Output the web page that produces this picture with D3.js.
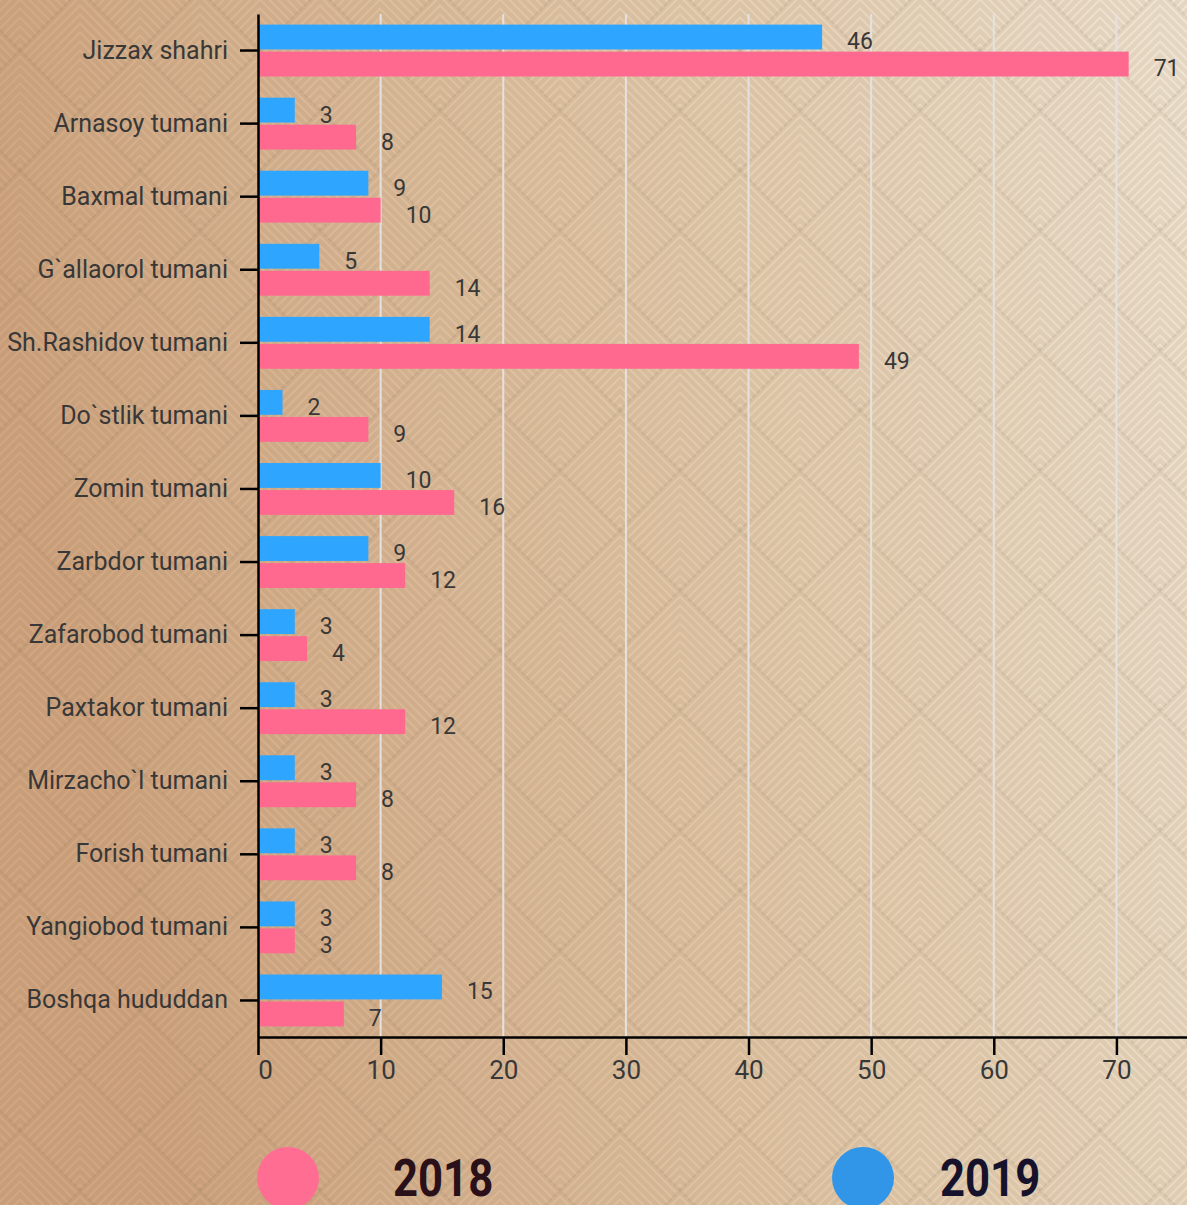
<!DOCTYPE html>
<html>
<head>
<meta charset="utf-8">
<script src="https://cdn.jsdelivr.net/npm/d3@7"></script>
<style>
    html, body { margin: 0; padding: 0; overflow: hidden; }
    svg { display: block; }
</style>
</head>
<body>
<script>
// categories (top to bottom)
const categories = ['Jizzax shahri', 'Arnasoy tumani', 'Baxmal tumani', 'G`allaorol tumani',
    'Sh.Rashidov tumani', 'Do`stlik tumani', 'Zomin tumani', 'Zarbdor tumani', 'Zafarobod tumani',
    'Paxtakor tumani', 'Mirzacho`l tumani', 'Forish tumani', 'Yangiobod tumani', 'Boshqa hududdan'];
const values_2018 = [71, 8, 10, 14, 49, 9, 16, 12, 4, 12, 8, 8, 3, 7];
const values_2019 = [46, 3, 9, 5, 14, 2, 10, 9, 3, 3, 3, 3, 3, 15];
const series = ['2019', '2018'];
const x_ticks = [0, 10, 20, 30, 40, 50, 60, 70];

const series2color = { '2018': '#ff6990', '2019': '#2ea6ff' };
const legend2color = { '2018': '#ff6e92', '2019': '#3196e8' };
const legend_text_color = { '2018': '#2a1018', '2019': '#16122c' };

// canvas
const width = 1187;
const height = 1205;
const margin = { left: 258, top: 14, bottom: 1037, right: 1190 };

const svg = d3.select('body')
    .append('svg')
    .attr('width', width)
    .attr('height', height);

// background: gradient + chevron diamonds
const defs = svg.append('defs');
const grad = defs.append('linearGradient')
    .attr('id', 'bg_grad')
    .attr('x1', '0%').attr('y1', '20%')
    .attr('x2', '100%').attr('y2', '0%');
grad.append('stop').attr('offset', '0%').attr('stop-color', '#d2a681');
grad.append('stop').attr('offset', '50%').attr('stop-color', '#e3c8a8');
grad.append('stop').attr('offset', '100%').attr('stop-color', '#f1e5d3');

const tile = 120;
const half = tile / 2;
const pattern = defs.append('pattern')
    .attr('id', 'chevrons')
    .attr('patternUnits', 'userSpaceOnUse')
    .attr('width', tile)
    .attr('height', tile)
    .attr('x', 20).attr('y', -8);
// every diamond is filled with nested ^ shapes, the arms stop at the lower edges
const diamond_centers = [[half, half], [0, 0], [tile, 0], [0, tile], [tile, tile]];
for (const [cx, cy] of diamond_centers) {
    for (let d = 0; d < tile; d += 9) {
        const arm = half - d / 2;
        pattern.append('path')
            .attr('d', `M${cx - arm},${cy + d / 2}L${cx},${cy - half + d}L${cx + arm},${cy + d / 2}`)
            .attr('fill', 'none')
            .attr('stroke', 'rgba(105,85,60,0.10)')
            .attr('stroke-width', 4.5);
    }
}

svg.append('rect')
    .attr('width', width)
    .attr('height', height)
    .attr('fill', 'url(#bg_grad)');
svg.append('rect')
    .attr('width', width)
    .attr('height', height)
    .attr('fill', 'url(#chevrons)');

// scales
const x = d3.scaleLinear()
    .domain([0, 76])
    .range([margin.left, margin.right]);
const y0 = d3.scaleBand()
    .domain(categories)
    .range([margin.top, margin.bottom])
    .paddingInner(0.29)
    .paddingOuter(0.145);
const y1 = d3.scaleBand()
    .domain(series)
    .range([0, y0.bandwidth()])
    .paddingInner(0.08);

// grid lines
svg.append('g')
    .attr('id', 'grid_g')
    .selectAll('line')
    .data(x_ticks.filter(d => d > 0))
    .enter().append('line')
    .attr('x1', d => x(d))
    .attr('x2', d => x(d))
    .attr('y1', margin.top)
    .attr('y2', margin.bottom)
    .attr('stroke', '#e4e2e0')
    .attr('stroke-width', 2);

// bars
const rows = categories.map((c, i) => ({ category: c, '2018': values_2018[i], '2019': values_2019[i] }));
const bar_data = [];
for (const r of rows) {
    for (const s of series) bar_data.push({ category: r.category, series: s, value: r[s] });
}

svg.append('g')
    .attr('id', 'bars_g')
    .selectAll('rect')
    .data(bar_data)
    .enter().append('rect')
    .attr('x', x(0))
    .attr('y', d => y0(d.category) + y1(d.series))
    .attr('width', d => x(d.value) - x(0))
    .attr('height', y1.bandwidth())
    .attr('fill', d => series2color[d.series]);

// value labels
svg.append('g')
    .attr('id', 'labels_g')
    .selectAll('text')
    .data(bar_data)
    .enter().append('text')
    .attr('x', d => x(d.value) + 25)
    .attr('y', d => y0(d.category) + y1(d.series) + y1.bandwidth())
    .attr('font-family', 'Roboto, sans-serif')
    .attr('font-size', 23)
    .attr('fill', '#383838')
    .text(d => d.value);

// axes
const x_axis = svg.append('g')
    .attr('transform', `translate(0,${margin.bottom})`)
    .call(d3.axisBottom(x).tickValues(x_ticks).tickSize(18).tickPadding(6).tickSizeOuter(0));
const y_axis = svg.append('g')
    .attr('transform', `translate(${margin.left},0)`)
    .call(d3.axisLeft(y0).tickSize(18).tickPadding(12).tickSizeOuter(0));

for (const ax of [x_axis, y_axis]) {
    ax.select('.domain').attr('stroke', '#000').attr('stroke-width', 2.5);
    ax.selectAll('.tick line').attr('stroke', '#000').attr('stroke-width', 2.5);
    ax.selectAll('.tick text')
        .attr('font-family', 'Roboto, sans-serif')
        .attr('fill', '#383838');
}
x_axis.selectAll('.tick text')
    .attr('font-size', 26)
    .attr('dx', d => d === 0 ? 7 : 0);
y_axis.selectAll('.tick text').attr('font-size', 25);

// legend
const legend_x = { '2018': 288, '2019': 863 };
const legend_text_x = { '2018': 105, '2019': 77 };
const legend = svg.append('g')
    .attr('id', 'legend_g')
    .selectAll('g')
    .data(['2018', '2019'])
    .enter().append('g')
    .attr('transform', d => `translate(${legend_x[d]},1178)`);
legend.append('circle')
    .attr('r', 31)
    .attr('fill', d => legend2color[d]);
legend.append('text')
    .attr('transform', d => `translate(${legend_text_x[d]},18) scale(0.84,1)`)
    .attr('font-family', 'Roboto, sans-serif')
    .attr('font-weight', 'bold')
    .attr('font-size', 52)
    .attr('fill', d => legend_text_color[d])
    .text(d => d);
</script>
</body>
</html>
